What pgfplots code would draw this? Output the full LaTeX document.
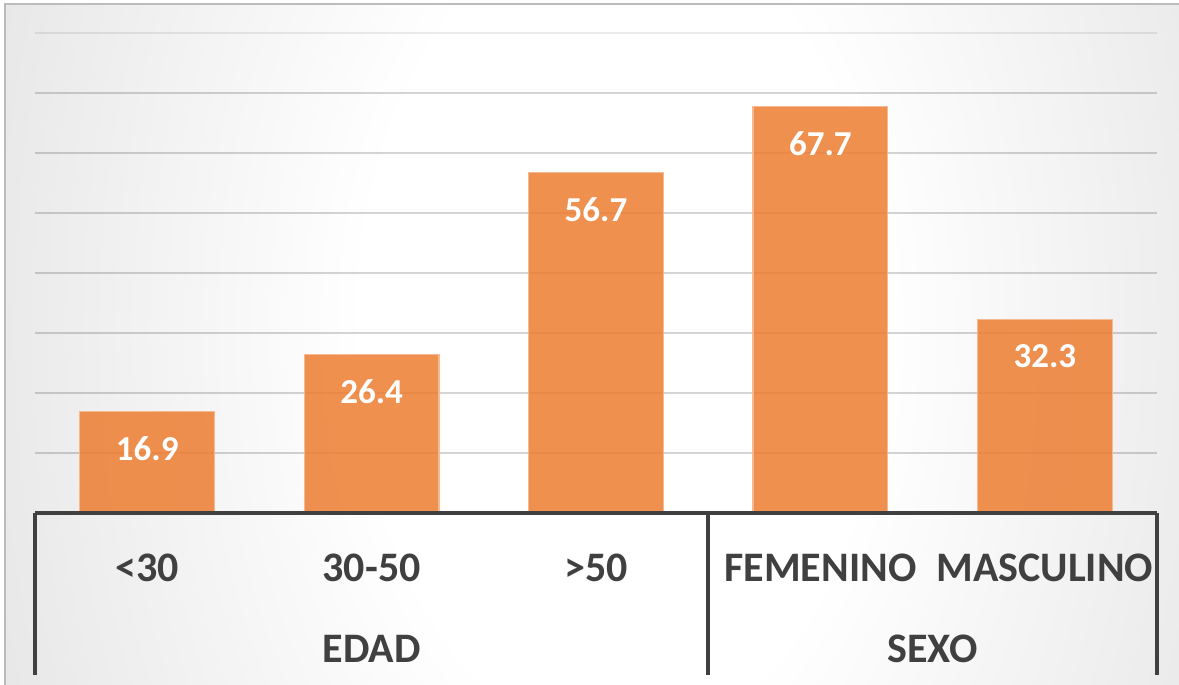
\documentclass[border=0pt]{standalone}
\usepackage{pgfplots}
\pgfplotsset{compat=1.18}
\usepackage{fontspec}
\setmainfont{Carlito}
\definecolor{bgout}{RGB}{195,195,195}
\definecolor{bgfar}{RGB}{175,175,175}
\definecolor{txt}{RGB}{64,64,64}
\definecolor{barc}{RGB}{237,125,49}
\definecolor{baredge}{RGB}{246,186,146}
\definecolor{frame}{RGB}{188,188,188}
\pgfdeclareradialshading{bgshade}{\pgfpoint{0bp}{0bp}}{color(0bp)=(white); color(6.7bp)=(white); color(33.3bp)=(bgout); color(50bp)=(bgfar)}
\begin{document}
\begin{tikzpicture}
\fill[white] (0,0) rectangle (589.5pt,342.5pt);
\begin{scope}
\clip (2.5pt,0) rectangle (589.5pt,340.5pt);
\shade[shading=bgshade] (310pt,177.5pt) ellipse [x radius=480pt, y radius=750pt];
\end{scope}
\draw[frame, line width=1pt] (2.5pt,0) -- (2.5pt,340.5pt) -- (589.5pt,340.5pt);
\begin{axis}[
  at={(17.5pt,86pt)}, anchor=south west,
  scale only axis, width=561pt, height=240pt,
  xmin=-0.5, xmax=4.5, ymin=0, ymax=80,
  clip=false,
  axis line style={draw=none},
  major tick style={draw=none},
  ytick={10,20,...,70}, yticklabels={},
  ymajorgrids,
  grid style={black, opacity=0.17, line width=1pt},
  extra y ticks={80}, extra y tick labels={},
  extra y tick style={grid style={black, opacity=0.08, line width=1pt}},
  xtick=data,
  xticklabels={{<30},{30-50},{>50},{FEMENINO},{MASCULINO}},
  xticklabel style={font=\fontsize{21pt}{25pt}\selectfont\bfseries, text=txt, anchor=center, yshift=-23pt},
  ybar, bar width=0.6,
  nodes near coords,
  /pgf/number format/assume math mode=true,
  /pgf/number format/fixed, /pgf/number format/precision=1,
  nodes near coords style={font=\fontsize{17.5pt}{21pt}\selectfont\bfseries, text=white, anchor=center, yshift=-18.5pt},
]
\addplot[fill=barc, fill opacity=0.85, draw=baredge, line width=0.6pt, text opacity=1] coordinates {(0,16.9) (1,26.4) (2,56.7) (3,67.7) (4,32.3)};
\draw[txt, line width=1.75pt] (axis cs:-0.5,0) -- (axis cs:4.5,0);
\draw[txt, line width=1.75pt] (axis cs:-0.5,0) -- ([yshift=-81pt]axis cs:-0.5,0);
\draw[txt, line width=1.75pt] (axis cs:2.5,0) -- ([yshift=-81pt]axis cs:2.5,0);
\draw[txt, line width=1.75pt] (axis cs:4.5,0) -- ([yshift=-81pt]axis cs:4.5,0);
\node[font=\fontsize{21pt}{25pt}\selectfont\bfseries, text=txt] at ([yshift=-68pt]axis cs:1,0) {EDAD};
\node[font=\fontsize{21pt}{25pt}\selectfont\bfseries, text=txt] at ([yshift=-68pt]axis cs:3.5,0) {SEXO};
\end{axis}
\pgfresetboundingbox
\path (0,0) rectangle (589.5pt,342.5pt);
\end{tikzpicture}
\end{document}
